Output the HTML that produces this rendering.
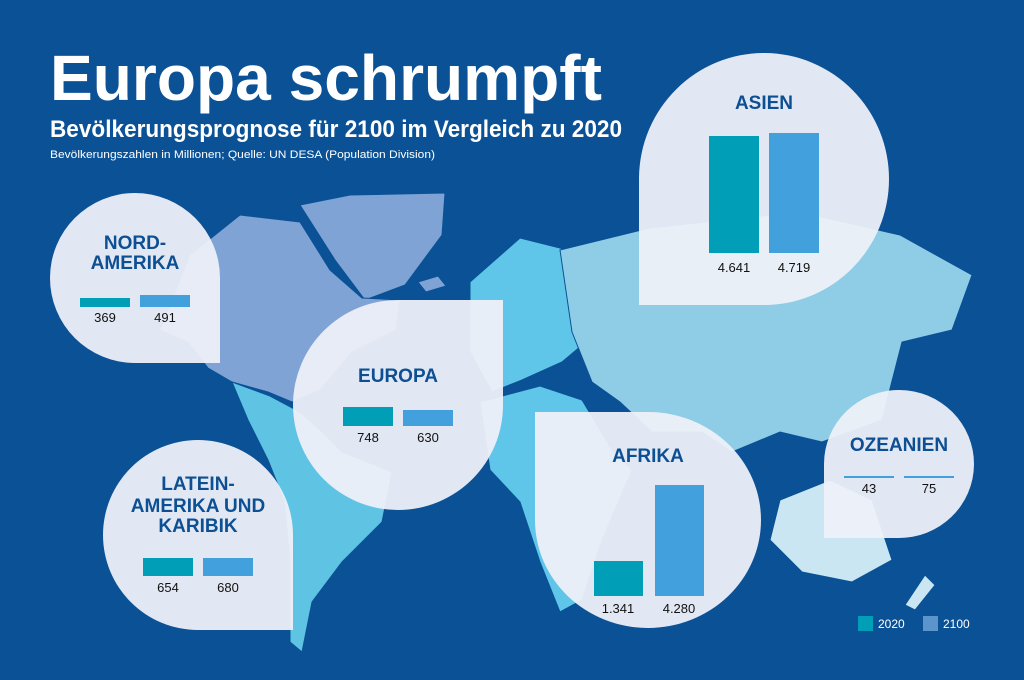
<!DOCTYPE html>
<html><head><meta charset="utf-8"><style>
html,body{margin:0;padding:0;background:#0b5196;}
svg{display:block;font-family:"Liberation Sans",sans-serif;}
</style></head><body>
<svg width="1024" height="680" viewBox="0 0 1024 680" xmlns="http://www.w3.org/2000/svg">
<rect width="1024" height="680" fill="#0b5196"/>
<g stroke="#0b5196" stroke-width="1">
<path d="M300,205 L350,195 L445,193 L442,235 L405,285 L365,300 L335,260 Z" fill="#7fa3d4"/>
<path d="M418,282 L438,276 L446,286 L426,292 Z" fill="#7fa3d4"/>
<path d="M160,330 L190,255 L240,215 L300,222 L330,270 L362,298 L400,300 L396,330 L352,352 L320,390 L292,402 L268,392 L232,382 L208,368 L188,342 Z" fill="#7fa3d4"/>
<path d="M232,382 L270,396 L300,412 L322,432 L342,452 L392,472 L382,522 L342,562 L312,602 L302,652 L290,642 L290,560 L284,500 L268,460 L248,420 Z" fill="#5fc3e4"/>
<path d="M470,282 L520,238 L560,248 L600,262 L600,330 L562,362 L522,380 L492,392 L470,352 Z" fill="#5fc6ea"/>
<path d="M480,402 L540,386 L582,400 L612,450 L632,470 L602,540 L582,600 L560,612 L540,562 L520,502 L490,470 Z" fill="#5fc6ea"/>
<path d="M560,250 L650,228 L800,212 L900,235 L972,275 L952,330 L902,342 L882,420 L822,442 L780,432 L732,452 L702,432 L652,432 L620,402 L592,382 L572,332 Z" fill="#8fcde6"/>
<path d="M780,500 L830,480 L872,500 L892,560 L852,582 L802,572 L770,540 Z" fill="#c9e6f2"/>
<path d="M925,575 L935,585 L915,610 L905,605 Z" fill="#c9e6f2"/>
</g>
<g fill="#eef0f8" fill-opacity="0.95">
<path d="M220,363 L135,363 A85,85 0 1 1 220,278 Z"/>
<path d="M503,300 L503,405 A105,105 0 1 1 398,300 Z"/>
<path d="M293,630 L198,630 A95,95 0 1 1 293,535 Z"/>
<path d="M639,305 L639,178 A125,126 0 1 1 764,305 Z"/>
<path d="M535,412 L648,412 A113,108 0 1 1 535,520 Z"/>
<path d="M824,538 L824,464 A75,74 0 1 1 898,538 Z"/>
</g>
<g fill="#fff" font-weight="bold">
<text x="50" y="100" font-size="64" textLength="552" lengthAdjust="spacingAndGlyphs">Europa schrumpft</text>
<text x="50" y="137" font-size="24" textLength="572" lengthAdjust="spacingAndGlyphs">Bevölkerungsprognose für 2100 im Vergleich zu 2020</text>
<text x="50" y="158" font-size="11" font-weight="normal" textLength="385" lengthAdjust="spacingAndGlyphs">Bevölkerungszahlen in Millionen; Quelle: UN DESA (Population Division)</text>
</g>
<g fill="#0d4f93" font-weight="bold" font-size="19" text-anchor="middle">
<text x="135" y="249">NORD-</text>
<text x="135" y="269">AMERIKA</text>
<text x="398" y="382">EUROPA</text>
<text x="198" y="490">LATEIN-</text>
<text x="198" y="512">AMERIKA UND</text>
<text x="198" y="532">KARIBIK</text>
<text x="764" y="109">ASIEN</text>
<text x="648" y="462">AFRIKA</text>
<text x="899" y="451">OZEANIEN</text>
</g>
<g>
<rect x="80" y="298" width="50" height="9" fill="#009fb7"/><rect x="140" y="295" width="50" height="12" fill="#42a0dc"/>
<rect x="343" y="407" width="50" height="19" fill="#009fb7"/><rect x="403" y="410" width="50" height="16" fill="#42a0dc"/>
<rect x="143" y="558" width="50" height="18" fill="#009fb7"/><rect x="203" y="558" width="50" height="18" fill="#42a0dc"/>
<rect x="709" y="136" width="50" height="117" fill="#009fb7"/><rect x="769" y="133" width="50" height="120" fill="#42a0dc"/>
<rect x="594" y="561" width="49" height="35" fill="#009fb7"/><rect x="655" y="485" width="49" height="111" fill="#42a0dc"/>
<rect x="844" y="476" width="50" height="2" fill="#42a0dc"/><rect x="904" y="476" width="50" height="2" fill="#42a0dc"/>
</g>
<g fill="#111" font-size="13" text-anchor="middle">
<text x="105" y="322">369</text><text x="165" y="322">491</text>
<text x="368" y="442">748</text><text x="428" y="442">630</text>
<text x="168" y="592">654</text><text x="228" y="592">680</text>
<text x="734" y="272">4.641</text><text x="794" y="272">4.719</text>
<text x="618" y="613">1.341</text><text x="679" y="613">4.280</text>
<text x="869" y="493">43</text><text x="929" y="493">75</text>
</g>
<rect x="858" y="616" width="15" height="15" fill="#009fb7"/>
<text x="878" y="628" fill="#fff" font-size="12">2020</text>
<rect x="923" y="616" width="15" height="15" fill="#5b95cc"/>
<text x="943" y="628" fill="#fff" font-size="12">2100</text>
</svg>
</body></html>
